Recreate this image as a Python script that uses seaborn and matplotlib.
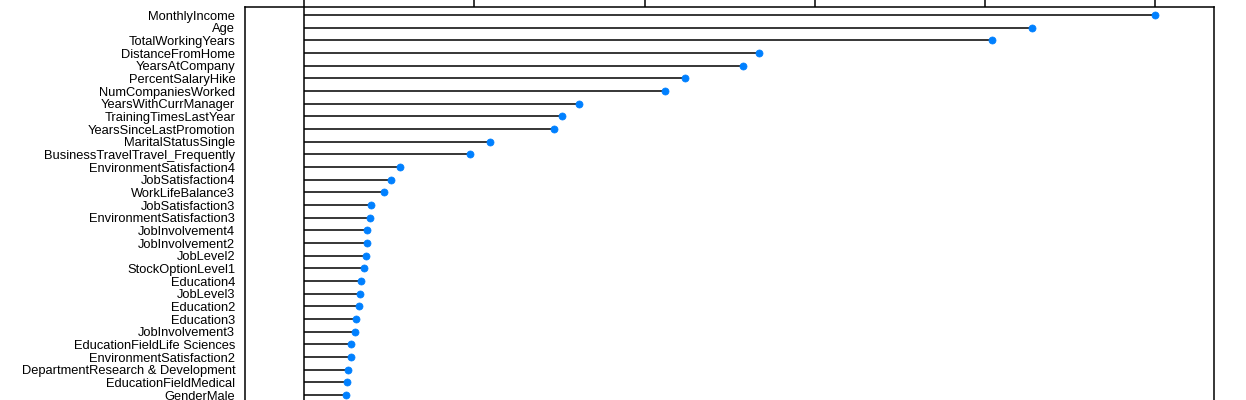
import matplotlib
matplotlib.use("Agg")
import matplotlib.pyplot as plt
import seaborn as sns

# variable importance, top rows of the plot (scaled 0-100)
features = [
    "MonthlyIncome", "Age", "TotalWorkingYears", "DistanceFromHome",
    "YearsAtCompany", "PercentSalaryHike", "NumCompaniesWorked",
    "YearsWithCurrManager", "TrainingTimesLastYear", "YearsSinceLastPromotion",
    "MaritalStatusSingle", "BusinessTravelTravel_Frequently",
    "EnvironmentSatisfaction4", "JobSatisfaction4", "WorkLifeBalance3",
    "JobSatisfaction3", "EnvironmentSatisfaction3", "JobInvolvement4",
    "JobInvolvement2", "JobLevel2", "StockOptionLevel1", "Education4",
    "JobLevel3", "Education2", "Education3", "JobInvolvement3",
    "EducationFieldLife Sciences", "EnvironmentSatisfaction2",
    "DepartmentResearch & Development", "EducationFieldMedical", "GenderMale",
]
importance = [
    100.0, 85.5, 80.8, 53.5, 51.6, 44.8, 42.4, 32.3, 30.3, 29.4,
    21.9, 19.5, 11.3, 10.2, 9.4, 7.9, 7.8, 7.4, 7.4, 7.3, 7.05,
    6.66, 6.54, 6.43, 6.11, 6.0, 5.49, 5.52, 5.17, 5.05, 4.94,
]
x_ticks = [0, 20, 40, 60, 80, 100]

plt.rcParams["font.family"] = ["Liberation Sans", "DejaVu Sans"]

W, H = 1246, 400
fig = plt.figure(figsize=(W / 100, H / 100), dpi=100)

# the plot continues below the visible area, so the axes run past the bottom
row_px = 12.67
top_px, left_px, right_px = 7, 245, 1214
ax_h_px = 520
ax = fig.add_axes([left_px / W, (H - top_px - ax_h_px) / H,
                   (right_px - left_px) / W, ax_h_px / H])

pos = list(range(len(features)))
ax.hlines(pos, 0, importance, color="black", lw=1.1, zorder=1)
sns.scatterplot(x=importance, y=pos, ax=ax, marker="o", s=26,
                color="#0080ff", edgecolor="#0080ff", linewidth=0.5, zorder=3)
ax.axvline(0, color="black", lw=1.1, zorder=2)

ax.set_xlim(-6.93, 106.9)
y_top = -(15 - top_px) / row_px
ax.set_ylim(y_top + ax_h_px / row_px, y_top)

ax.set_yticks(pos)
ax.set_yticklabels(features, fontsize=9.3, color="black")
ax.tick_params(axis="y", length=0, pad=7)

ax.xaxis.tick_top()
ax.set_xticks(x_ticks)
ax.set_xticklabels([])
ax.tick_params(axis="x", direction="out", length=6, width=1.1, color="black")
for s in ax.spines.values():
    s.set_linewidth(1.1)
    s.set_color("black")
ax.set_xlabel("")
ax.set_ylabel("")

fig.savefig("out.png", dpi=100)
